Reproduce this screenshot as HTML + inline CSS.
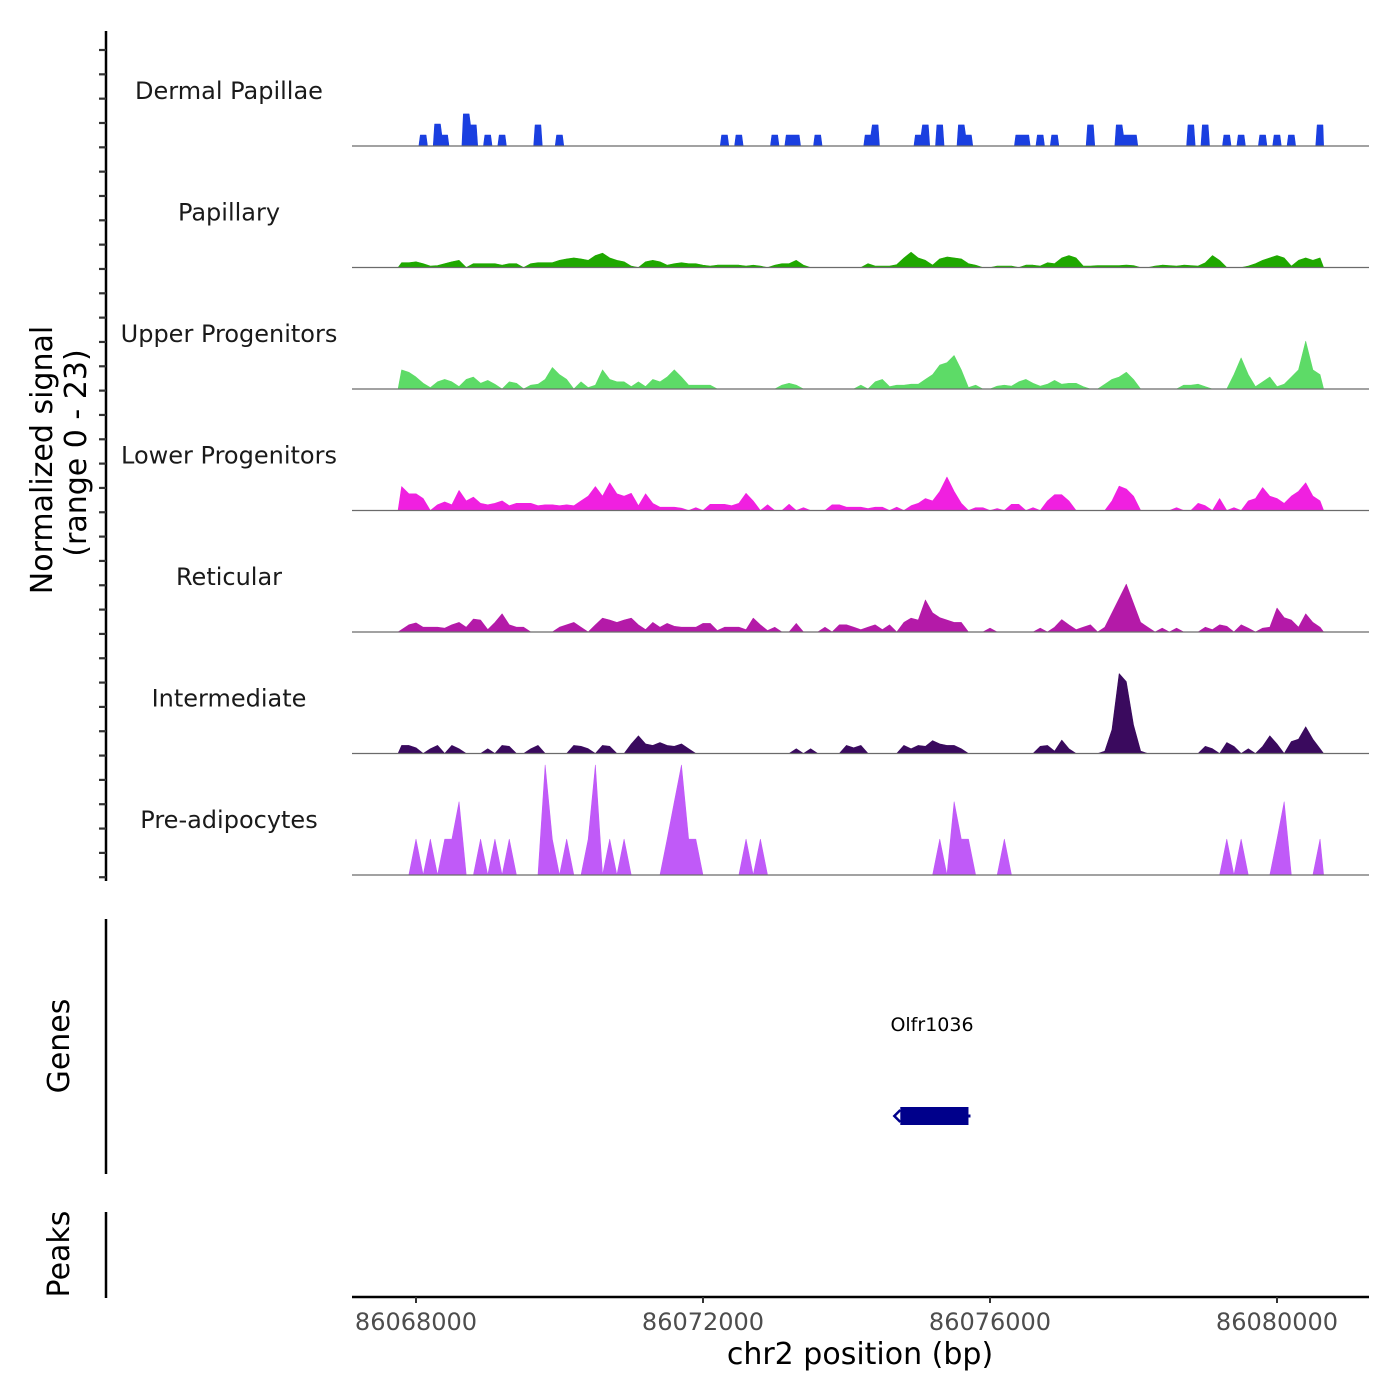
<!DOCTYPE html>
<html><head><meta charset="utf-8"><title>Coverage tracks</title>
<style>
html,body{margin:0;padding:0;background:#fff;}
svg{display:block;font-family:"DejaVu Sans","Liberation Sans",sans-serif;}
</style></head>
<body>
<svg id="chart" width="1400" height="1400" viewBox="0 0 1400 1400" xmlns="http://www.w3.org/2000/svg">
  <rect x="0" y="0" width="1400" height="1400" fill="#fff"/>
  <g id="tracks"></g>
  <line x1="106" y1="31" x2="106" y2="881" stroke="#000" stroke-width="2.5"/>
  <g id="yticks"></g>
  <text transform="translate(52,460) rotate(-90)" text-anchor="middle" font-size="30" fill="#000">Normalized signal</text>
  <text transform="translate(86,453) rotate(-90)" text-anchor="middle" font-size="30" fill="#000">(range 0 - 23)</text>

  <line x1="106" y1="919" x2="106" y2="1174" stroke="#000" stroke-width="2.5"/>
  <text transform="translate(69,1046) rotate(-90)" text-anchor="middle" font-size="30" fill="#000">Genes</text>
  <text x="932" y="1031" text-anchor="middle" font-size="19" fill="#000">Olfr1036</text>
  <g id="gene"></g>

  <line x1="106" y1="1212" x2="106" y2="1298" stroke="#000" stroke-width="2.5"/>
  <text transform="translate(69,1254) rotate(-90)" text-anchor="middle" font-size="30" fill="#000">Peaks</text>

  <line x1="352" y1="1297" x2="1369" y2="1297" stroke="#000" stroke-width="2.5"/>
  <g id="xticks"></g>
  <text x="860" y="1364" text-anchor="middle" font-size="30" fill="#000">chr2 position (bp)</text>
</svg>
<script>
const binStart = 86067750;
const binSize = 100;
const trackNames = ["Dermal Papillae","Papillary","Upper Progenitors","Lower Progenitors","Reticular","Intermediate","Pre-adipocytes"];
const trackColors = ["#1a3fe0","#1fa800","#5ddb67","#f020e0","#b41aa8","#3a0a5e","#c05af8"];
const xTicks = [86068000,86072000,86076000,86080000];
const geneStart = 86074750;
const geneEnd = 86075700;

const dermal = [0,0,0,2.3,0,4.6,2.3,0,0,6.7,4.4,0,2.3,0,2.3,0,0,0,0,4.4,0,0,2.3,0,0,0,0,0,0,0,
0,0,0,0,0,0,0,0,0,0,0,0,0,0,0,2.3,0,2.3,0,0,0,0,2.3,0,2.3,2.3,0,0,2.3,0,
0,0,0,0,0,2.3,4.4,0,0,0,0,0,2.3,4.4,0,4.4,0,0,4.4,2.3,0,0,0,0,0,0,2.3,2.3,0,2.3,
0,2.3,0,0,0,0,4.4,0,0,0,4.4,2.3,2.3,0,0,0,0,0,0,0,4.4,0,4.4,0,0,2.3,0,2.3,0,0,
2.3,0,2.3,0,2.3,0,0,0,4.4];
const papillary = [1,1,1.2,0.8,0.3,0.4,0.8,1.2,1.5,0,0.8,0.8,0.8,0.8,0.5,0.8,0.8,0,0.8,1,
1,1,1.5,1.8,2,1.8,1.5,2.5,3,2,1.5,1.2,0.3,0,1.2,1.5,1.2,0.5,0.8,1,
0.8,0.8,0.5,0.3,0.5,0.5,0.5,0.5,0.3,0.5,0.3,0,0.5,0.8,0.8,1.5,0.5,0,0,0,
0,0,0,0,0,0.8,0.3,0.3,0.3,0.6,2,3.2,2,1.5,0.5,1.8,2.2,2,1.8,0.8,
0.5,0,0,0.3,0.3,0.3,0,0.5,0.5,0.3,1,0.8,2,2.5,2,0.3,0.3,0.4,0.4,0.4,
0.4,0.5,0.4,0,0,0.3,0.5,0.4,0.3,0.5,0.4,0.3,1,2.5,1.5,0,0,0,0.3,0.8,
1.5,2,2.5,2,0.3,1.5,2,1.5,2];
const upper = [4,3.5,2.5,1.2,0.3,1.5,2,1.5,0.5,2,2.5,1.2,1.8,1,0,1.5,1.2,0,0.8,1,
2,4.5,3,2,0,1.5,0.3,0.8,4,2,1.5,1.5,0.5,1.5,0.5,2,1.5,2.5,4,2.5,
0.8,0.8,0.8,0.8,0,0,0,0,0,0,0,0,0,0.8,1.2,0.8,0,0,0,0,
0,0,0,0,0.8,0,1.5,2,0.5,0.8,0.8,1,1,2,3,5,5.5,7,4,0.3,
0.8,0,0,0.6,0.8,0.6,1.5,2,1.2,0.6,1,1.8,1,1.2,1.2,0.5,0,0,1,2,
2.5,3.5,2,0,0,0,0,0,0,0.8,0.8,1,0.5,0,0,0,3,6.5,3,0.5,
1.5,2.5,0.5,1,2.5,4,10,4,3];
const lower = [5,3.5,3.5,2.5,0,1.2,1.8,1.2,4.2,2,2.8,1.5,1.2,1.5,2,1,1.5,1.5,1.5,1,
1.2,1.2,1,1.2,1,2,3,5,3,5.8,3.5,3,3.6,1,3.5,1.5,0.7,0.7,0.7,0.5,
0,0.6,0,1.3,1.3,1.3,1,1.5,3.6,2,0,1.2,0,0,1.3,0,0.6,0,0,0,
1.2,1.2,0.7,0.7,0.7,0.4,0.7,0.7,0,0.7,0,1,1.5,2.5,2,4,7,4,1.5,0,
0.6,0.6,0,0.4,0,1.3,1.3,0,0.6,0,2,3.3,3.3,2,0,0,0,0,0,2,
5.1,4.5,3,0,0,0,0,0,0.6,0,0,1.5,1,0,2.5,0,0.6,0,2,2.5,
4.8,3,2.5,1.5,3,4,5.8,3,2];
const reticular = [0.5,1.5,1.9,1,1,1,0.8,1.5,2,1,2.7,2.5,0.5,2,3.8,1.5,1,1,0,0,
0,0,1,1.5,2,1,0,1.5,2.9,2.5,2,2.5,2.9,1.5,0.5,2,1,1.8,1.2,1,
1,1,1.8,1.8,0.3,1,1,1,0.5,2.9,1.5,0.3,1,0,0,1.8,0,0,0,1,
0,1.5,1.5,1,0.5,1,1.5,0.5,1.5,0,2,2.9,2.5,6.7,4,3,2.5,2,2,0,
0,0,0.8,0,0,0,0,0,0,0.8,0,1,2.6,1.5,0.5,1,1.5,0,1,4,
7,10,6,2,1,0,0.8,0,0.8,0,0,0,1,0.5,1.5,1.2,0,1.5,0.8,0,
0.8,1,5,3,2.5,1,3.8,2,1];
const intermediate = [1.7,1.7,1.2,0,1,1.7,0,1.7,1,0,0,0,1,0,1.7,1.5,0,0,1,1.7,
0,0,0,0,1.7,1.5,1,0,1.7,1.5,0,0,2,3.7,2,1.7,2.3,1.7,1.5,2,
1,0,0,0,0,0,0,0,0,0,0,0,0,0,0,1,0,1,0,0,
0,0,1.7,1.2,1.7,0,0,0,0,0,1.7,1,1.7,1.5,2.7,2,1.7,1.7,1,0,
0,0,0,0,0,0,0,0,0,1.5,1.7,0.5,2.8,1,0,0,0,0,0.5,5,
16.7,15,6,0.5,0,0,0,0,0,0,0,0,1.5,1,0,2.3,1.5,0,1,0,
1.5,3.7,2,0,2.5,3,5.6,3,1];
const preadipocytes = [0,0,7.5,0,7.5,0,7.5,7.5,15.3,0,0,7.5,0,7.5,0,7.5,0,0,0,0,
23,7.5,0,7.5,0,0,7.5,23,0,7.5,0,7.5,0,0,0,0,0,7.5,15.3,23,
7.5,7.5,0,0,0,0,0,0,7.5,0,7.5,0,0,0,0,0,0,0,0,0,
0,0,0,0,0,0,0,0,0,0,0,0,0,0,0,7.5,0,15.3,7.5,7.5,
0,0,0,0,7.5,0,0,0,0,0,0,0,0,0,0,0,0,0,0,0,
0,0,0,0,0,0,0,0,0,0,0,0,0,0,0,7.5,0,7.5,0,0,
0,0,7.5,15.3,0,0,0,0,7.5];
const seriesValues = [dermal,papillary,upper,lower,reticular,intermediate,preadipocytes];
const stepStyle = [true,false,false,false,false,false,false];

const NS = "http://www.w3.org/2000/svg";
const plotLeft = 352, plotRight = 1369;
const bpRef = 86068000, xRef = 416, pxPerBp = 287/4000;
const xScale = bp => xRef + (bp - bpRef) * pxPerBp;
const baselines = [146,267.5,389,510.5,632,753.5,875];
const yMax = 23, yPx = 110;
const yScale = (v, base) => base - v / yMax * yPx;

function mk(tag, attrs, parent){
  const e = document.createElementNS(NS, tag);
  for (const k in attrs) e.setAttribute(k, attrs[k]);
  parent.appendChild(e);
  return e;
}

const tracksG = document.getElementById('tracks');
seriesValues.forEach((vals, t) => {
  const base = baselines[t];
  const g = mk('g', {}, tracksG);
  
  
  let pts = [];
  const x0 = xScale(binStart);
  pts.push(x0.toFixed(2) + ',' + base);
  vals.forEach((v, i) => {
    const y = yScale(v, base).toFixed(2);
    if (stepStyle[t]) {
      const xa = xScale(binStart + i * binSize + 10);
      const xb = xScale(binStart + (i + 1) * binSize - 10);
      pts.push(xa.toFixed(2) + ',' + y, xb.toFixed(2) + ',' + y);
    } else {
      const cx = xScale(binStart + (i + 0.5) * binSize);
      pts.push(cx.toFixed(2) + ',' + y);
    }
  });
  const xe = xScale(binStart + vals.length * binSize);
  pts.push(xe.toFixed(2) + ',' + base);
  const area = mk('polygon', {points: pts.join(' '), fill: trackColors[t], stroke: trackColors[t], 'stroke-width': '0.6', 'stroke-linejoin': 'round'}, g);
  
  
  const bl = mk('line', {x1: plotLeft, x2: plotRight, y1: base, y2: base, stroke: '#6b6b6b', 'stroke-width': '1.2'}, g);
  
  
  const lab = mk('text', {x: 229, y: base - 47, 'text-anchor': 'middle', 'font-size': '24', fill: '#1a1a1a'}, g);
  
  
  lab.textContent = trackNames[t];
});

const yt = document.getElementById('yticks');
for (let k = 0; k <= 34; k++) {
  const y = 50 + k * 24.33;
  const tk = mk('line', {x1: 99, x2: 106, y1: y, y2: y, stroke: '#333', 'stroke-width': '2.2'}, yt);
  
  
}

const xt = document.getElementById('xticks');
xTicks.forEach(v => {
  const x = xScale(v);
  const tk = mk('line', {x1: x, x2: x, y1: 1297, y2: 1303, stroke: '#333', 'stroke-width': '2'}, xt);
  
  
  const tl = mk('text', {x: x, y: 1330, 'text-anchor': 'middle', 'font-size': '24', fill: '#4d4d4d'}, xt);
  
  
  tl.textContent = String(v);
});

const gg = document.getElementById('gene');
const gx1 = xScale(geneStart), gx2 = xScale(geneEnd);
const gr = mk('rect', {x: gx1, y: 1107, width: gx2 - gx1, height: 18, fill: '#00008b'}, gg);


const ga = mk('path', {d: `M${gx1} 1110 L${gx1-6} 1116 L${gx1} 1122`, fill: 'none', stroke: '#00008b', 'stroke-width': '2.5'}, gg);


const gl = mk('line', {x1: gx2, x2: gx2 + 2, y1: 1116, y2: 1116, stroke: '#00008b', 'stroke-width': '3'}, gg);


</script>
</body></html>
